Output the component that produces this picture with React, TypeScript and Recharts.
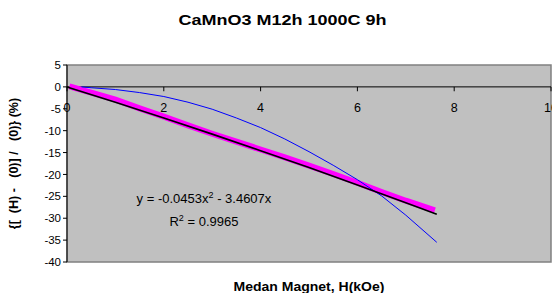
import React from "react";
import {
  ComposedChart,
  Line,
  XAxis,
  YAxis,
  ReferenceArea,
  ReferenceLine,
  ReferenceDot,
} from "recharts";

// measured resistance change (magenta)
const measuredH = [0.05, 0.5, 1, 1.5, 2, 2.5, 3, 3.5, 4, 4.5, 5, 5.5, 6, 6.5, 7, 7.6];
const measuredMR = [0.1, -1.3, -2.9, -4.9, -6.8, -8.8, -10.7, -12.5, -14.3, -16.1, -18.0, -19.9, -21.9, -24.0, -26.0, -28.2];

// second curve (blue)
const modelH = [0.3, 0.5, 1, 1.5, 2, 2.5, 3, 3.5, 4, 4.5, 5, 5.5, 6, 6.5, 7, 7.64];
const modelMR = [0, -0.2, -0.6, -1.3, -2.2, -3.5, -5.1, -7.1, -9.3, -11.9, -14.8, -17.9, -21.2, -24.9, -29.3, -35.5];

// polynomial trendline (black)
const trendH = [0, 1, 2, 3, 4, 5, 6, 7, 7.64];
const trendMR = [0, -3.51, -7.10, -10.79, -14.57, -18.44, -22.40, -26.45, -29.09];

const xTicks = [0, 2, 4, 6, 8, 10];
const yTicks = [5, 0, -5, -10, -15, -20, -25, -30, -35, -40];

const title = "CaMnO3 M12h 1000C 9h";
const xTitle = "Medan Magnet, H(kOe)";
const yTitle = "{[\u00A0\u00A0(H) -\u00A0\u00A0\u00A0(0)] /\u00A0\u00A0\u00A0(0)} (%)";

const toPoints = (xs: number[], ys: number[]) => xs.map((x, i) => ({ x, y: ys[i] }));

const measured = toPoints(measuredH, measuredMR);
const model = toPoints(modelH, modelMR);
const trend = toPoints(trendH, trendMR);

const font = "'Liberation Sans', Arial, sans-serif";

function EquationLabel(props: any) {
  const { viewBox } = props;
  const cx = viewBox.x;
  const cy = viewBox.y;
  return (
    <g fontFamily={font} fontSize={13} fill="#000" textAnchor="middle">
      <text x={cx} y={cy}>
        y = -0.0453x<tspan dy={-5} fontSize={9}>2</tspan>
        <tspan dy={5}> - 3.4607x</tspan>
      </text>
      <text x={cx} y={cy + 23}>
        R<tspan dy={-5} fontSize={9}>2</tspan>
        <tspan dy={5}> = 0.9965</tspan>
      </text>
    </g>
  );
}

export default function App() {
  return (
    <div style={{ position: "absolute", left: 0, top: 0, width: 552, height: 293, background: "#fff", fontFamily: font, overflow: "hidden" }}>
      <div
        style={{
          position: "absolute",
          left: 0,
          top: 11,
          width: 565,
          textAlign: "center",
          fontSize: 15,
          fontWeight: "bold",
          lineHeight: "18px",
          transform: "scaleX(1.2)",
          transformOrigin: "282.5px 0",
        }}
      >
        {title}
      </div>
      <ComposedChart
        width={552}
        height={293}
        margin={{ top: 65, right: 1, bottom: 31, left: 0 }}
        style={{ position: "absolute", left: 0, top: 0 }}
      >
        <ReferenceArea
          x1={0}
          x2={10}
          y1={-40}
          y2={5}
          fill="#C0C0C0"
          fillOpacity={1}
          stroke="#808080"
          strokeWidth={1.5}
        />
        <XAxis type="number" dataKey="x" domain={[0, 10]} ticks={xTicks} hide />
        <YAxis
          type="number"
          domain={[-40, 5]}
          ticks={yTicks}
          width={67}
          interval={0}
          axisLine={{ stroke: "#000", strokeWidth: 1 }}
          tickLine={{ stroke: "#000" }}
          tickSize={4}
          tick={{ fill: "#000", fontSize: 11.5, fontFamily: font }}
          label={{
            value: yTitle,
            angle: -90,
            position: "insideLeft",
            offset: 14,
            style: { textAnchor: "middle", fontWeight: "bold", fontSize: 12.5, fill: "#000", fontFamily: font },
          }}
        />
        <ReferenceLine y={0} stroke="#000" strokeWidth={1} />
        {xTicks.map((t) => (
          <ReferenceLine
            key={"tk" + t}
            segment={[{ x: t, y: 0 }, { x: t, y: -1 }]}
            stroke="#000"
            strokeWidth={1}
            ifOverflow="visible"
          />
        ))}
        {xTicks.map((t) => (
          <ReferenceDot
            key={"tl" + t}
            x={t}
            y={0}
            r={0}
            ifOverflow="visible"
            label={{ value: String(t), position: "bottom", offset: 16, fill: "#000", fontSize: 12.5, fontFamily: font }}
          />
        ))}
        <Line
          data={measured}
          dataKey="y"
          type="linear"
          stroke="#FF00FF"
          strokeWidth={6}
          dot={false}
          isAnimationActive={false}
        />
        <Line
          data={model}
          dataKey="y"
          type="linear"
          stroke="#0000FF"
          strokeWidth={1}
          dot={false}
          isAnimationActive={false}
        />
        <Line
          data={trend}
          dataKey="y"
          type="linear"
          stroke="#000"
          strokeWidth={1.6}
          dot={false}
          isAnimationActive={false}
        />
        <ReferenceDot x={2.83} y={-26.6} r={0} label={<EquationLabel />} />
      </ComposedChart>
      <div
        style={{
          position: "absolute",
          left: 0,
          top: 280,
          width: 618,
          textAlign: "center",
          fontSize: 12.5,
          fontWeight: "bold",
          lineHeight: "15px",
          transform: "scaleX(1.12)",
          transformOrigin: "309px 0",
        }}
      >
        {xTitle}
      </div>
    </div>
  );
}
